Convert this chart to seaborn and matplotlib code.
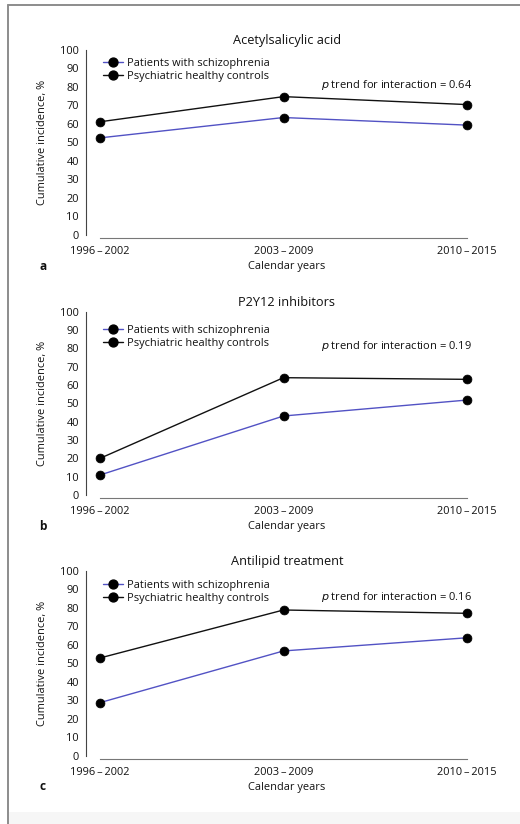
import numpy as np
import pandas as pd
import matplotlib
matplotlib.use("Agg")
import matplotlib.pyplot as plt
import seaborn as sns
from matplotlib.patches import Rectangle
from matplotlib.lines import Line2D

# ---- data -------------------------------------------------------------
periods = ["1996\u2009\u2013\u20092002", "2003\u2009\u2013\u20092009", "2010\u2009\u2013\u20092015"]
groups = ["Patients with schizophrenia", "Psychiatric healthy controls"]
panel_titles = ["Acetylsalicylic acid", "P2Y12 inhibitors", "Antilipid treatment"]
panel_letters = ["a", "b", "c"]
p_values = ["0.64", "0.19", "0.16"]

aspirin_schizo = [52.5, 63.5, 59.4]
aspirin_control = [61.2, 74.8, 70.5]
p2y12_schizo = [10.9, 43.1, 51.8]
p2y12_control = [20.0, 64.0, 63.1]
antilipid_schizo = [28.8, 56.7, 63.8]
antilipid_control = [52.9, 78.8, 77.0]

yticks = list(range(0, 101, 10))

panels = [
    (aspirin_schizo, aspirin_control),
    (p2y12_schizo, p2y12_control),
    (antilipid_schizo, antilipid_control),
]

# ---- style ------------------------------------------------------------
sns.set_theme(style="white")
plt.rcParams["font.family"] = ["Open Sans", "DejaVu Sans"]
plt.rcParams["axes.edgecolor"] = "#444444"

W, H = 520, 824
fig = plt.figure(figsize=(W / 100, H / 100), dpi=100)

palette = {groups[0]: "#5252c4", groups[1]: "#111111"}
fs = 7.9

# axes boxes in pixels: (top, bottom) of the 0-100 range
boxes = [(50, 235), (311.7, 495), (570.7, 756)]
left_px, right_px = 86, 488
x0_px, x2_px = 100, 467
ptext_y = [81, 81.3, 85.8]
legend_top = [0.957, 0.927, 0.95]

unit = (x2_px - x0_px) / 2.0
xlo = -(x0_px - left_px) / unit
xhi = 2 + (right_px - x2_px) / unit

for i, (schizo, control) in enumerate(panels):
    top, bot = boxes[i]
    ax = fig.add_axes([left_px / W, 1 - bot / H, (right_px - left_px) / W, (bot - top) / H])

    df = pd.DataFrame({
        "period": np.tile(np.arange(len(periods)), 2),
        "incidence": list(schizo) + list(control),
        "group": [groups[0]] * len(periods) + [groups[1]] * len(periods),
    })
    sns.lineplot(
        data=df, x="period", y="incidence", hue="group", hue_order=groups,
        palette=palette, marker="o", markersize=6.4, linewidth=1.0,
        markerfacecolor="black", markeredgecolor="black", markeredgewidth=0.5,
        legend=False, ax=ax, zorder=3,
    )

    ax.set_xlim(xlo, xhi)
    ax.set_ylim(0, 100)
    ax.set_yticks(yticks)
    ax.set_xticks(range(len(periods)))
    ax.set_xticklabels(periods)
    for s in ["top", "right"]:
        ax.spines[s].set_visible(False)
    ax.spines["left"].set_bounds(0, 100)
    ax.spines["bottom"].set_bounds(0, 2)
    ax.spines["bottom"].set_position(("outward", 2))
    ax.spines["left"].set_linewidth(0.8)
    ax.spines["bottom"].set_linewidth(0.8)
    ax.spines["bottom"].set_color("#777777")
    ax.tick_params(axis="both", direction="out", length=3, width=0.8,
                   color="#444444", labelsize=fs, labelcolor="#111111", pad=2)
    ax.tick_params(axis="x", pad=3)

    ax.set_title(panel_titles[i], fontsize=9.2, color="#111111", pad=4)
    ax.set_xlabel("Calendar years", fontsize=fs, color="#111111", labelpad=3)
    ax.set_ylabel("Cumulative incidence, %", fontsize=fs, color="#111111")
    ax.yaxis.set_label_coords(-0.095, 0.5)

    handles = [
        Line2D([], [], color=palette[g], lw=1.0, marker="o", markersize=6.4,
               markerfacecolor="black", markeredgecolor="black")
        for g in groups
    ]
    ax.legend(handles, groups, loc="upper left",
              bbox_to_anchor=((103 - left_px) / (right_px - left_px), legend_top[i]),
              frameon=False, fontsize=fs, handlelength=1.85, handletextpad=0.35,
              labelspacing=0.15, borderpad=0, borderaxespad=0,
              labelcolor="#111111")

    ax.text(2.027, ptext_y[i], r"$p$" + " trend for interaction = " + p_values[i],
            ha="right", va="center", fontsize=fs + 0.1, color="#111111")

    fig.text(43 / W, 1 - (bot + 31) / H, panel_letters[i], fontsize=8.6,
             fontweight="bold", color="#111111", ha="center", va="center")

# frame around the figure and faint footer band
fig.add_artist(Line2D([8 / W, 1], [1 - 4.5 / H, 1 - 4.5 / H], color="#8c8c8c", lw=1.4))
fig.add_artist(Line2D([8 / W, 8 / W], [0, 1 - 4.5 / H], color="#8c8c8c", lw=1.4))
fig.add_artist(Rectangle((9 / W, 0), 1, 12 / H, transform=fig.transFigure,
                         color="#f6f6f6", lw=0, zorder=-1))

fig.savefig("out.png", dpi=100, facecolor="white")
